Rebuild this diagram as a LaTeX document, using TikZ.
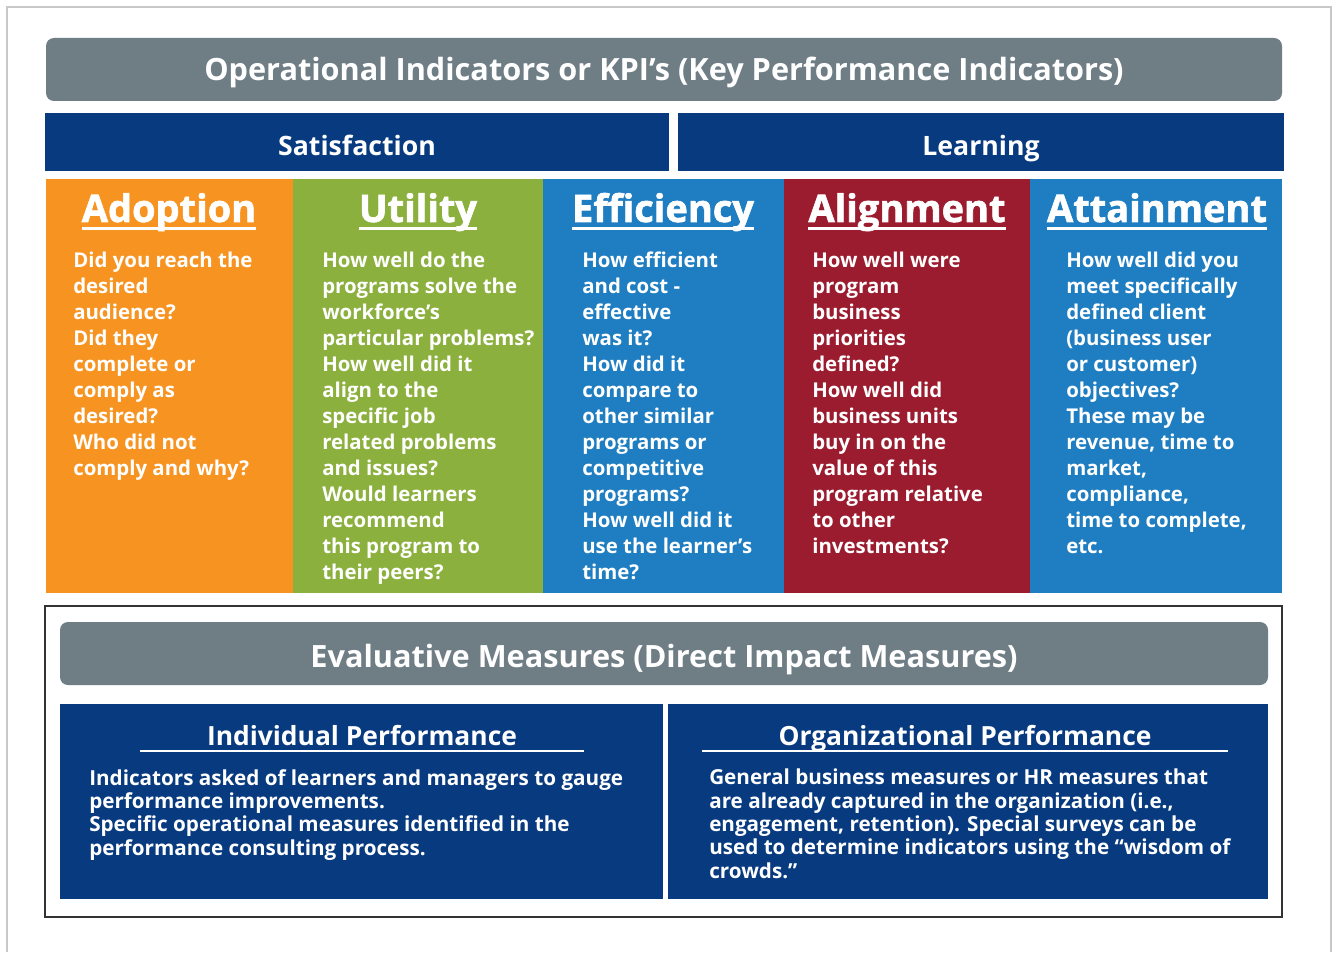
\documentclass[tikz,border=0pt]{standalone}
\usepackage{fontspec}
\setmainfont{Open Sans}
\newfontfamily\heavyfont[FakeBold=1.6]{Open Sans}
\definecolor{kgray}{HTML}{6F7D85}
\definecolor{kblue}{HTML}{083A80}
\definecolor{korange}{HTML}{F79421}
\definecolor{kgreen}{HTML}{8BB03D}
\definecolor{klight}{HTML}{1F7EC1}
\definecolor{kred}{HTML}{9C1C2F}
\definecolor{kframe}{HTML}{C8C8C8}
\begin{document}
\begin{tikzpicture}[x=0.75pt,y=-0.75pt,
  title/.style={text=white,font=\fontsize{23}{28}\selectfont\bfseries,inner sep=0pt,anchor=base},
  band/.style={text=white,font=\fontsize{20}{24}\selectfont\bfseries,inner sep=0pt,anchor=base},
  colhead/.style={text=white,font=\heavyfont\fontsize{28.5}{32}\selectfont\bfseries,inner sep=0pt,anchor=base},
  body/.style={text=white,font=\fontsize{15.3}{19.5}\selectfont\bfseries,align=left,anchor=north west,inner sep=0pt},
  sub/.style={text=white,font=\fontsize{19.8}{24}\selectfont\bfseries,inner sep=0pt,anchor=base},
  small/.style={text=white,font=\fontsize{15.5}{17.5}\selectfont\bfseries,align=left,anchor=north west,inner sep=0pt},
  uline/.style={white,line width=2.2pt},
  thinline/.style={white,line width=1.5pt}]
\useasboundingbox (0,0) rectangle (1333,952);
\fill[white] (0,0) rectangle (1333,952);
\draw[kframe,line width=1.5pt] (7,952) -- (7,7) -- (1331,7) -- (1331,952);
% top title
\fill[kgray,rounded corners=6pt] (46,38) rectangle (1282,101);
\node[title] (t1) at (664,81) {Operational Indicators or KPI’s (Key Performance Indicators)};
% bands
\fill[kblue] (45,113) rectangle (669,171);
\fill[kblue] (678,113) rectangle (1284,171);
\node[band] (sat) at (357,156) {Satisfaction};
\node[band] (lrn) at (981,156) {Learning};
% columns
\fill[korange] (46,179) rectangle (293,593);
\fill[kgreen] (293,179) rectangle (543,593);
\fill[klight] (543,179) rectangle (784,593);
\fill[kred] (784,179) rectangle (1030,593);
\fill[klight] (1030,179) rectangle (1282,593);
\node[colhead] (h1) at (169,222) {Adoption};
\node[colhead] (h2) at (418,222) {Utility};
\node[colhead] (h3) at (663,222) {Efficiency};
\node[colhead] (h4) at (907,222) {Alignment};
\node[colhead] (h5) at (1157,222) {Attainment};
\foreach \h in {h1,h2,h3,h4,h5}
  \draw[uline] ([yshift=-4.8pt]\h.base west) -- ([yshift=-4.8pt]\h.base east);
\node[body] (b1) at (73,252) {Did you reach the\\desired\\audience?\\Did they\\complete or\\comply as\\desired?\\Who did not\\comply and why?};
\node[body] (b2) at (322,252) {How well do the\\programs solve the\\workforce’s\\particular problems?\\How well did it\\align to the\\specific job\\related problems\\and issues?\\Would learners\\recommend\\this program to\\their peers?};
\node[body] (b3) at (582,252) {How efficient\\and cost -\\effective\\was it?\\How did it\\compare to\\other similar\\programs or\\competitive\\programs?\\How well did it\\use the learner’s\\time?};
\node[body] (b4) at (812,252) {How well were\\program\\business\\priorities\\defined?\\How well did\\business units\\buy in on the\\value of this\\program relative\\to other\\investments?};
\node[body] (b5) at (1066,252) {How well did you\\meet specifically\\defined client\\(business user\\or customer)\\objectives?\\These may be\\revenue, time to\\market,\\compliance,\\time to complete,\\etc.};
% bottom section
\draw[black!80,line width=1.3pt] (45,606) rectangle (1282,917);
\fill[kgray,rounded corners=6pt] (60,622) rectangle (1268,685);
\node[title] (t2) at (664,667) {Evaluative Measures (Direct Impact Measures)};
\fill[kblue] (60,704) rectangle (663,899);
\fill[kblue] (668,704) rectangle (1268,899);
\node[sub] (ip) at (362,745) {Individual Performance};
\node[sub] (op) at (965,745) {Organizational Performance};
\draw[thinline] (140,751) -- (584,751);
\draw[thinline] (702,751) -- (1228,751);
\node[small] (ib) at (89,769) {Indicators asked of learners and managers to gauge\\performance improvements.\\Specific operational measures identified in the\\performance consulting process.};
\node[small] (ob) at (709,769) {General business measures or HR measures that\\are already captured in the organization (i.e.,\\engagement, retention). Special surveys can be\\used to determine indicators using the “wisdom of\\crowds.”};
\end{tikzpicture}
\end{document}
